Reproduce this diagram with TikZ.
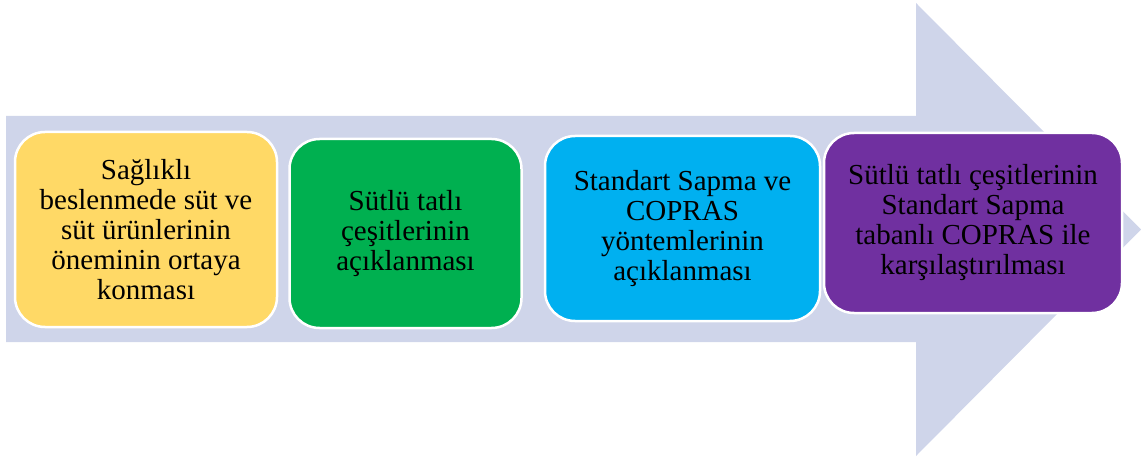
\documentclass[tikz,border=0pt]{standalone}
\usepackage{fontspec}
\setmainfont{Liberation Serif}
\definecolor{arrowfill}{RGB}{207,213,234}
\definecolor{boxyellow}{RGB}{255,217,102}
\definecolor{boxgreen}{RGB}{0,176,80}
\definecolor{boxblue}{RGB}{0,176,240}
\definecolor{boxpurple}{RGB}{112,48,160}
\tikzset{
  stagebox/.style={draw=white, line width=2.5pt, rounded corners=30pt, inner sep=0pt,
    align=center, font=\fontsize{29}{30}\selectfont, text=black},
}
\begin{document}
\begin{tikzpicture}[x=1pt,y=-1pt]
\useasboundingbox (0,0) rectangle (1141,457);
\fill[arrowfill] (6,116) -- (916,116) -- (916,3) -- (1141,229.5) -- (916,456) -- (916,342) -- (6,342) -- cycle;
\node[stagebox, fill=boxyellow, minimum width=262pt, minimum height=195pt] (s1) at (146,229.5)
  {Sağlıklı\\beslenmede süt ve\\süt ürünlerinin\\öneminin ortaya\\konması};
\node[stagebox, fill=boxgreen, minimum width=232pt, minimum height=189pt] (s2) at (405.5,233.5)
  {Sütlü tatlı\\çeşitlerinin\\açıklanması};
\node[stagebox, fill=boxblue, minimum width=275pt, minimum height=185pt] (s3) at (682.5,228.5)
  {Standart Sapma ve\\COPRAS\\yöntemlerinin\\açıklanması};
\node[stagebox, fill=boxpurple, minimum width=298pt, minimum height=180pt] (s4) at (973,223)
  {Sütlü tatlı çeşitlerinin\\Standart Sapma\\tabanlı COPRAS ile\\karşılaştırılması};
\end{tikzpicture}
\end{document}
